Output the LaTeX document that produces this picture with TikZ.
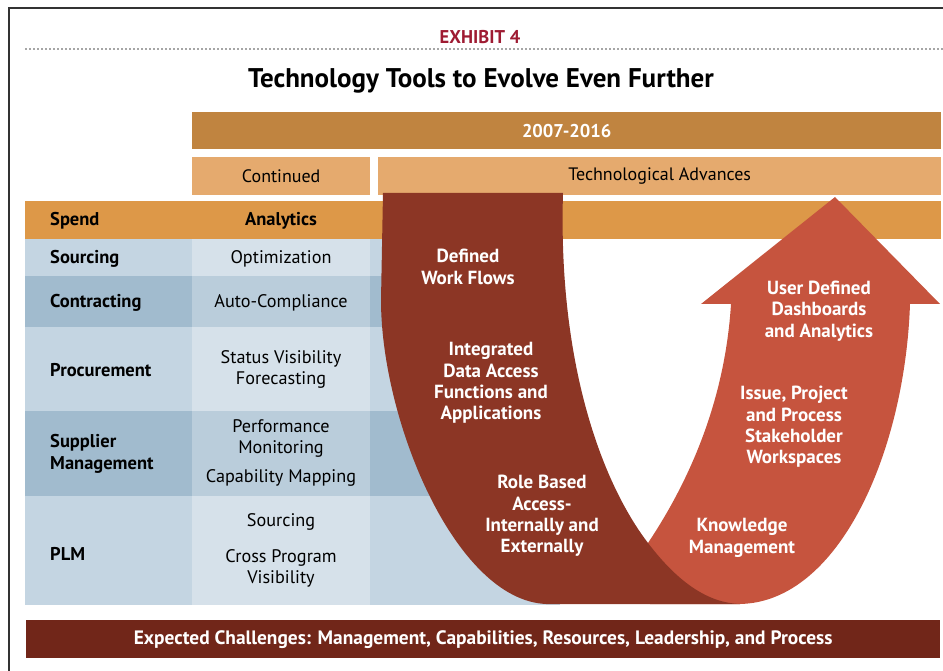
\documentclass[tikz,border=0pt]{standalone}
\usepackage{fontspec}
\setmainfont{PT Sans}
\usetikzlibrary{positioning}
\definecolor{exred}{RGB}{158,27,50}
\definecolor{periodbar}{RGB}{192,132,64}
\definecolor{subhead}{RGB}{229,170,110}
\definecolor{spendbar}{RGB}{221,152,72}
\definecolor{rowpale}{RGB}{196,213,226}
\definecolor{rowdeep}{RGB}{161,187,206}
\definecolor{midpale}{RGB}{214,225,234}
\definecolor{middeep}{RGB}{186,205,219}
\definecolor{swoosh}{RGB}{140,54,37}
\definecolor{uparrow}{RGB}{198,84,62}
\definecolor{footbar}{RGB}{113,38,25}
\tikzset{
  %% ---- bars ----
  bar/.style     = {rectangle, fill=#1, inner sep=0pt, anchor=north west,
                    align=center},
  %% ---- table text ----
  rowlabel/.style = {anchor=west, inner sep=0pt, align=left, yshift=-2pt,
                    font=\fontsize{18.5}{22}\selectfont\bfseries},
  celltext/.style = {inner sep=0pt, align=center, yshift=-2pt,
                    font=\fontsize{18.2}{21}\selectfont},
  %% ---- text on the U ----
  bandtext/.style = {inner sep=0pt, align=center, text=white, yshift=-2pt,
                    font=\fontsize{19}{21.3}\selectfont\bfseries},
}

\begin{document}
\begin{tikzpicture}[x=1pt, y=-1pt]
  \useasboundingbox (0,0) rectangle (943,671);

  %% frame and header
  \draw[line width=1.3pt, black!80] (9,671) -- (9,8) -- (943,8);
  \node[font=\fontsize{18.5}{20}\selectfont\bfseries, text=exred, inner sep=0pt]
    (exhibit) at (480,37) {EXHIBIT 4};
  \draw[gray!70, line width=1.8pt, dash pattern=on 1.8pt off 2.2pt]
    (25,49) -- (943,49);
  \node[font=\fontsize{27}{30}\selectfont\bfseries, inner sep=0pt]
    (title) at (481,81) {Technology Tools to Evolve Even Further};

  %% column headings
  \node[bar=periodbar, minimum width=749pt, minimum height=37pt,
    text=white, font=\fontsize{18.5}{20}\selectfont\bfseries]
    (period) at (192,112) {2007-2016};
  \node[bar=subhead, minimum width=178pt, minimum height=38pt,
    font=\fontsize{18}{20}\selectfont]
    (cont) at (192,157) {Continued};
  \node[bar=subhead, minimum width=563pt, minimum height=38pt,
    font=\fontsize{18}{20}\selectfont]
    (advances) at (378,157) {Technological Advances};
  \node[bar=spendbar, minimum width=916pt, minimum height=38pt]
    (spend) at (25,201) {};

  %% table rows
  \foreach \top/\ht/\shade in {239/37/pale, 276/51/deep, 327/84/pale,
                               411/85/deep, 496/109/pale} {
    \fill[row\shade] (25,\top) rectangle ++(167,\ht);
    \fill[mid\shade] (192,\top) rectangle ++(178,\ht);
    \fill[row\shade] (370,\top) rectangle ++(190,\ht);
  }

  \node[rowlabel] (spendlbl) at (50,219) {Spend};
  \node[rowlabel, anchor=center] (analytics) at (281,219) {Analytics};
  \node[rowlabel] (sourcing) at (50,257) {Sourcing};
  \node[rowlabel] (contract) at (50,301) {Contracting};
  \node[rowlabel] (procure) at (50,368) {Procurement};
  \node[rowlabel] (supplier) at (50,452) {Supplier\\Management};
  \node[rowlabel] (plm) at (50,552) {PLM};

  \node[celltext] (optim) at (281,257) {Optimization};
  \node[celltext] (autocomp) at (281,301) {Auto-Compliance};
  \node[celltext] (status) at (281,367) {Status Visibility\\Forecasting};
  \node[celltext] (perf) at (281,436) {Performance\\Monitoring};
  \node[celltext] (capmap) at (281,476) {Capability Mapping};
  \node[celltext] (plmsrc) at (281,520) {Sourcing};
  \node[celltext] (crossprog) at (281,566) {Cross Program\\Visibility};

  %% rising arrow (right arm)
  \fill[uparrow] (835,197) -- (940,304) -- (910,304)
    .. controls (905,450) and (840,602) .. (740,604)
    -- (650,604) -- (630,560) -- (648,543)
    .. controls (690,480) and (725,400) .. (731,304)
    -- (701,304) -- cycle;

  %% falling swoosh (left arm)
  \fill[swoosh] (383,193) -- (563,193)
    .. controls (558,360) and (600,480) .. (648,543)
    .. controls (680,585) and (710,603) .. (740,604)
    -- (546,604)
    .. controls (455,600) and (381,420) .. (381,300) -- cycle;

  \node[bandtext] (flows) at (468,265) {Defined\\Work Flows};
  \node[bandtext] (dataacc) at (491,381) {Integrated\\Data Access\\Functions and\\Applications};
  \node[bandtext] (roles) at (542,514) {Role Based\\Access-\\Internally and\\Externally};
  \node[bandtext] (dash) at (819,309) {User Defined\\Dashboards\\and Analytics};
  \node[bandtext] (spaces) at (794,425) {Issue, Project\\and Process\\Stakeholder\\Workspaces};
  \node[bandtext] (knowl) at (742,536) {Knowledge\\Management};

  %% footer
  \node[bar=footbar, minimum width=914pt, minimum height=38pt, text=white,
    font=\fontsize{19.4}{20}\selectfont\bfseries]
    (challenges) at (26,620)
    {Expected Challenges: Management, Capabilities, Resources, Leadership, and Process};
\end{tikzpicture}
\end{document}
